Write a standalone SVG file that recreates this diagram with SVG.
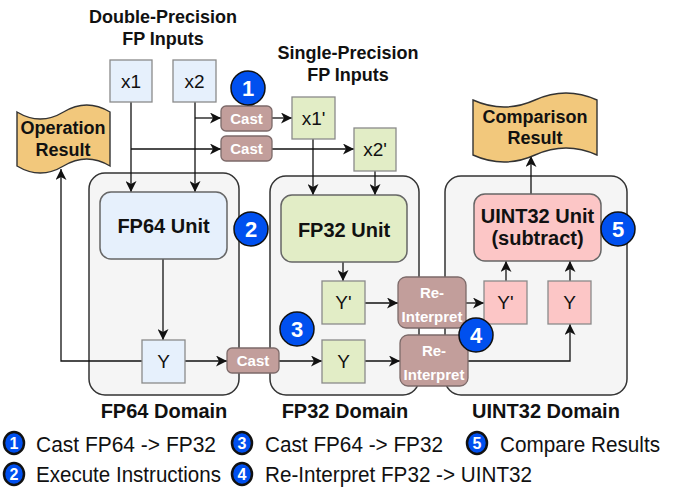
<svg xmlns="http://www.w3.org/2000/svg" width="678" height="491" viewBox="0 0 678 491">
  <style>
    text { font-family: "Liberation Sans", Arial, Helvetica, sans-serif; }
    .title { font-size: 18px; font-weight: bold; fill: #111; text-anchor: middle; }
    .domain { fill: #f5f5f5; stroke: #333; stroke-width: 1.5; }
    .dlabel { font-size: 20px; font-weight: bold; fill: #111; text-anchor: middle; }
    .blue { fill: #e6f0fc; stroke: #8a8a8a; stroke-width: 1.3; }
    .green { fill: #e2edc6; stroke: #8a8a8a; stroke-width: 1.3; }
    .pink { fill: #fcc6c6; stroke: #8a8a8a; stroke-width: 1.3; }
    .unitb { stroke: #666; stroke-width: 1.5; }
    .op { fill: #c29e9b; stroke: #7c6a69; stroke-width: 1.3; }
    .optxt { font-size: 15px; font-weight: bold; fill: #fff; text-anchor: middle; }
    .val { font-size: 19px; fill: #111; text-anchor: middle; }
    .unit { font-size: 20px; font-weight: bold; fill: #111; text-anchor: middle; }
    .tape { fill: #f2c87c; stroke: #333; stroke-width: 1.4; }
    .badge { fill: #0050ef; stroke: #111; stroke-width: 1.5; }
    .bnum { font-size: 22px; font-weight: bold; fill: #fff; text-anchor: middle; }
    .lbadge { fill: #0050ef; stroke: #111; stroke-width: 2.5; }
    .lnum { font-size: 16px; font-weight: bold; fill: #fff; text-anchor: middle; }
    .legend { font-size: 22px; fill: #111; }
    .wire { fill: none; stroke: #111; stroke-width: 1.3; }
  </style>
  <defs>
    <marker id="arrow" markerUnits="userSpaceOnUse" markerWidth="11" markerHeight="11" viewBox="0 0 11 11" refX="11" refY="5.5" orient="auto">
      <path d="M0,0 L11,5.5 L0,11 L3,5.5 Z" fill="#111"/>
    </marker>
  </defs>

  <!-- section titles -->
  <text class="title" x="163" y="23">Double-Precision</text>
  <text class="title" x="163" y="45">FP Inputs</text>
  <text class="title" x="348" y="59">Single-Precision</text>
  <text class="title" x="348" y="81">FP Inputs</text>

  <!-- domain containers -->
  <g id="fp64-domain">
    <rect class="domain" x="89" y="173" width="150" height="222" rx="16"/>
    <text class="dlabel" x="164" y="418">FP64 Domain</text>
  </g>
  <g id="fp32-domain">
    <rect class="domain" x="270" y="176" width="149" height="219" rx="16"/>
    <text class="dlabel" x="345" y="418">FP32 Domain</text>
  </g>
  <g id="uint32-domain">
    <rect class="domain" x="445" y="176" width="182" height="219" rx="16"/>
    <text class="dlabel" x="546" y="418">UINT32 Domain</text>
  </g>

  <!-- connectors -->
  <g id="connectors">
    <path class="wire" d="M131,102 V192" marker-end="url(#arrow)"/>
    <path class="wire" d="M131,149 H221" marker-end="url(#arrow)"/>
    <path class="wire" d="M195,102 V192" marker-end="url(#arrow)"/>
    <path class="wire" d="M195,118 H221" marker-end="url(#arrow)"/>
    <path class="wire" d="M272,118 H292" marker-end="url(#arrow)"/>
    <path class="wire" d="M272,149 H354" marker-end="url(#arrow)"/>
    <path class="wire" d="M313,139 V195" marker-end="url(#arrow)"/>
    <path class="wire" d="M375,171 V195" marker-end="url(#arrow)"/>
    <path class="wire" d="M163,259 V340" marker-end="url(#arrow)"/>
    <path class="wire" d="M185,361 H227" marker-end="url(#arrow)"/>
    <path class="wire" d="M279,361 H322" marker-end="url(#arrow)"/>
    <path class="wire" d="M142,361 H61 V169" marker-end="url(#arrow)"/>
    <path class="wire" d="M343,262 V281" marker-end="url(#arrow)"/>
    <path class="wire" d="M365,303 H398" marker-end="url(#arrow)"/>
    <path class="wire" d="M365,361 H400" marker-end="url(#arrow)"/>
    <path class="wire" d="M466,303 H484" marker-end="url(#arrow)"/>
    <path class="wire" d="M468,361 H570 V324" marker-end="url(#arrow)"/>
    <path class="wire" d="M506,281 V261" marker-end="url(#arrow)"/>
    <path class="wire" d="M570,281 V261" marker-end="url(#arrow)"/>
    <path class="wire" d="M531,194 V156" marker-end="url(#arrow)"/>
  </g>

  <!-- inputs -->
  <g id="x1">
    <rect class="blue" x="110" y="60" width="42" height="42"/>
    <text class="val" x="131" y="88">x1</text>
  </g>
  <g id="x2">
    <rect class="blue" x="173" y="60" width="43" height="42"/>
    <text class="val" x="194.5" y="88">x2</text>
  </g>
  <g id="x1p">
    <rect class="green" x="292" y="97" width="43" height="42"/>
    <text class="val" x="313.5" y="125">x1'</text>
  </g>
  <g id="x2p">
    <rect class="green" x="354" y="128" width="42" height="43"/>
    <text class="val" x="375" y="156">x2'</text>
  </g>

  <!-- casts -->
  <g id="cast1">
    <rect class="op" x="221" y="106" width="51" height="25" rx="5"/>
    <text class="optxt" x="246.5" y="124">Cast</text>
  </g>
  <g id="cast2">
    <rect class="op" x="221" y="136" width="51" height="25" rx="5"/>
    <text class="optxt" x="246.5" y="154">Cast</text>
  </g>

  <!-- execution units -->
  <g id="fp64-unit">
    <rect class="blue unitb" x="100" y="192" width="127" height="67" rx="11"/>
    <text class="unit" x="163.5" y="233">FP64 Unit</text>
  </g>
  <g id="fp32-unit">
    <rect class="green unitb" x="281" y="195" width="126" height="67" rx="11"/>
    <text class="unit" x="344" y="237">FP32 Unit</text>
  </g>
  <g id="uint32-unit">
    <rect class="pink unitb" x="474" y="194" width="127" height="67" rx="11"/>
    <text class="unit" x="537.5" y="223">UINT32 Unit</text>
    <text class="unit" x="537.5" y="245">(subtract)</text>
  </g>

  <!-- results -->
  <g id="fp64-y">
    <rect class="blue" x="142" y="340" width="43" height="43"/>
    <text class="val" x="163.5" y="368">Y</text>
  </g>
  <g id="cast3">
    <rect class="op" x="227" y="348" width="52" height="25" rx="5"/>
    <text class="optxt" x="253" y="366">Cast</text>
  </g>
  <g id="fp32-yp">
    <rect class="green" x="322" y="281" width="43" height="43"/>
    <text class="val" x="343.5" y="309">Y'</text>
  </g>
  <g id="fp32-y">
    <rect class="green" x="322" y="340" width="43" height="43"/>
    <text class="val" x="343.5" y="368">Y</text>
  </g>
  <g id="reinterpret1">
    <rect class="op" x="398" y="277" width="68" height="51" rx="8"/>
    <text class="optxt" x="432" y="298">Re-</text>
    <text class="optxt" x="432" y="322">Interpret</text>
  </g>
  <g id="reinterpret2">
    <rect class="op" x="400" y="335" width="68" height="51" rx="8"/>
    <text class="optxt" x="434" y="356">Re-</text>
    <text class="optxt" x="434" y="380">Interpret</text>
  </g>
  <g id="uint32-yp">
    <rect class="pink" x="484" y="281" width="43" height="43"/>
    <text class="val" x="505.5" y="309">Y'</text>
  </g>
  <g id="uint32-y">
    <rect class="pink" x="548" y="281" width="43" height="43"/>
    <text class="val" x="569.5" y="309">Y</text>
  </g>

  <!-- output documents -->
  <g id="operation-result">
    <path class="tape" d="M17,112 Q40.25,126 63.5,112 Q86.75,98 110,112 L110,166 Q86.75,152 63.5,166 Q40.25,180 17,166 Z"/>
    <text class="title" x="63" y="134">Operation</text>
    <text class="title" x="63" y="156">Result</text>
  </g>
  <g id="comparison-result">
    <path class="tape" d="M473,100 Q504,114 535,100 Q566,86 597,100 L597,155 Q566,141 535,155 Q504,169 473,155 Z"/>
    <text class="title" x="535" y="123">Comparison</text>
    <text class="title" x="535" y="144">Result</text>
  </g>

  <!-- step badges -->
  <g id="badge1"><circle class="badge" cx="248" cy="88" r="17"/><text class="bnum" x="248" y="96">1</text></g>
  <g id="badge2"><circle class="badge" cx="251" cy="229" r="17"/><text class="bnum" x="251" y="237">2</text></g>
  <g id="badge3"><circle class="badge" cx="297" cy="329" r="17"/><text class="bnum" x="297" y="337">3</text></g>
  <g id="badge4"><circle class="badge" cx="476" cy="335" r="17"/><text class="bnum" x="476" y="343">4</text></g>
  <g id="badge5"><circle class="badge" cx="618" cy="229" r="17"/><text class="bnum" x="618" y="237">5</text></g>

  <!-- legend -->
  <g id="legend">
    <ellipse class="lbadge" cx="14" cy="443" rx="10" ry="11"/><text class="lnum" x="14" y="449">1</text>
    <text class="legend" x="36" y="452" textLength="180" lengthAdjust="spacingAndGlyphs">Cast FP64 -&gt; FP32</text>
    <ellipse class="lbadge" cx="14" cy="474" rx="10" ry="11"/><text class="lnum" x="14" y="480">2</text>
    <text class="legend" x="36" y="482" textLength="185" lengthAdjust="spacingAndGlyphs">Execute Instructions</text>
    <ellipse class="lbadge" cx="242" cy="443" rx="10" ry="11"/><text class="lnum" x="242" y="449">3</text>
    <text class="legend" x="265" y="452" textLength="178" lengthAdjust="spacingAndGlyphs">Cast FP64 -&gt; FP32</text>
    <ellipse class="lbadge" cx="242" cy="474" rx="10" ry="11"/><text class="lnum" x="242" y="480">4</text>
    <text class="legend" x="265" y="482" textLength="267" lengthAdjust="spacingAndGlyphs">Re-Interpret FP32 -&gt; UINT32</text>
    <ellipse class="lbadge" cx="477" cy="443" rx="10" ry="11"/><text class="lnum" x="477" y="449">5</text>
    <text class="legend" x="500" y="452" textLength="160" lengthAdjust="spacingAndGlyphs">Compare Results</text>
  </g>
</svg>
